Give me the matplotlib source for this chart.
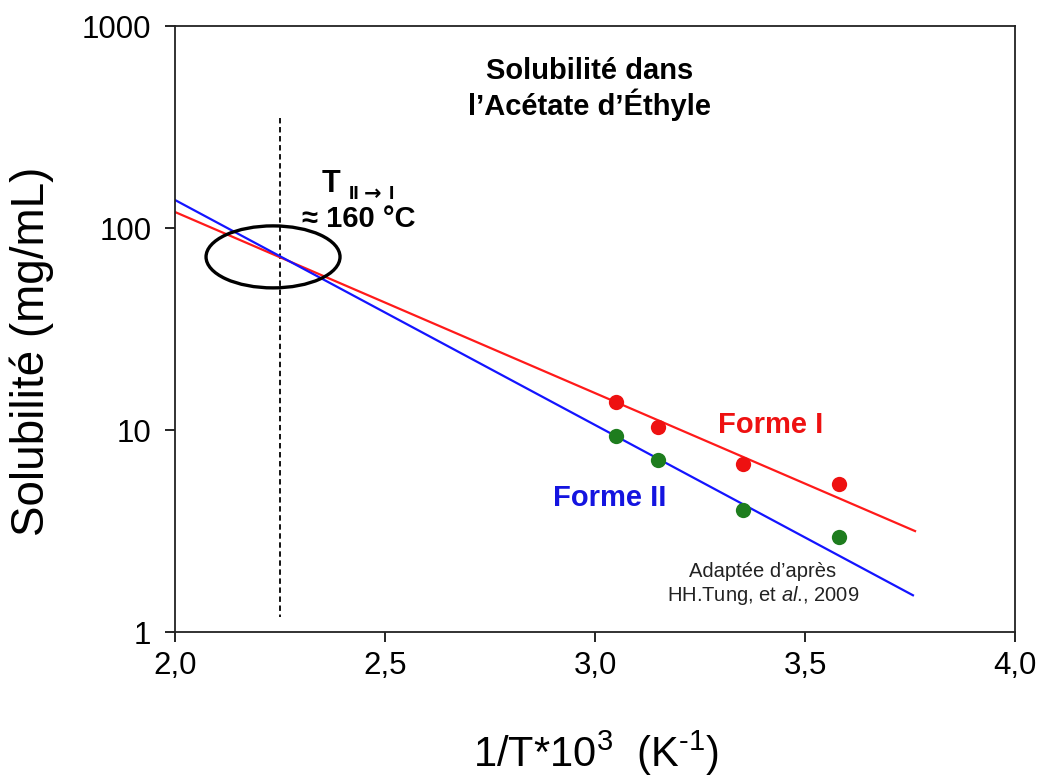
import matplotlib
matplotlib.use("Agg")
import matplotlib.pyplot as plt
from matplotlib.patches import Ellipse

plt.rcParams['font.family'] = ['Liberation Sans', 'DejaVu Sans']
plt.rcParams['mathtext.fontset'] = 'custom'
plt.rcParams['mathtext.rm'] = 'Liberation Sans'
plt.rcParams['mathtext.it'] = 'Liberation Sans:italic'
plt.rcParams['mathtext.bf'] = 'Liberation Sans:bold'

# ---- data ----
inv_T = [3.05, 3.15, 3.352, 3.581]
forme_I = [13.8, 10.35, 6.79, 5.4]
forme_II = [9.34, 7.1, 4.02, 2.95]

fit_x_I = [2.0, 3.762]
fit_y_I = [120.0, 3.16]
fit_x_II = [2.0, 3.757]
fit_y_II = [137.6, 1.52]

transition_x = [2.25, 2.25]
transition_y = [351.0, 1.19]

x_ticks = [2.0, 2.5, 3.0, 3.5, 4.0]
x_tick_labels = ['2,0', '2,5', '3,0', '3,5', '4,0']
y_ticks = [1, 10, 100, 1000]
y_tick_labels = ['1', '10', '100', '1000']

# ---- figure ----
W, H = 1040, 776
fig = plt.figure(figsize=(10.4, 7.76), dpi=100)
ax = fig.add_axes([175/W, 144/H, 840/W, 606/H])

ax.set_yscale('log')
ax.set_xlim(2.0, 4.0)
ax.set_ylim(1, 1000)

ax.plot(fit_x_I, fit_y_I, color='#ff1a1a', lw=1.6, zorder=2)
ax.plot(fit_x_II, fit_y_II, color='#1414ff', lw=1.6, zorder=2)
ax.plot(inv_T, forme_I, 'o', color='#ee1111', ms=11, mec='none', zorder=3)
ax.plot(inv_T, forme_II, 'o', color='#1e7d1e', ms=11, mec='none', zorder=3)

ax.plot(transition_x, transition_y, color='black', lw=1.3, ls=(0, (3, 2)), zorder=1)

ell = Ellipse((0.1167, 0.619), 0.1595, 0.1023, transform=ax.transAxes,
              fill=False, ec='black', lw=2.4, zorder=4)
ax.add_patch(ell)

ax.xaxis.set_major_locator(matplotlib.ticker.FixedLocator(x_ticks))
ax.set_xticklabels(x_tick_labels)
ax.yaxis.set_major_locator(matplotlib.ticker.FixedLocator(y_ticks))
ax.yaxis.set_minor_locator(matplotlib.ticker.NullLocator())
ax.set_yticklabels(y_tick_labels)
ax.tick_params(axis='both', which='major', direction='out', length=7, width=1.2,
               labelsize=22.5, colors='black')
ax.tick_params(axis='x', pad=7)
ax.tick_params(axis='y', pad=10)
for s in ax.spines.values():
    s.set_linewidth(1.3)
    s.set_color('#222222')

# axis titles placed in figure pixels
fig.text(32/W, 1 - 351/H, 'Solubilité (mg/mL)', rotation=90, ha='center', va='center',
         fontsize=33)
fig.text(596/W, 1 - 767/H, r'1/T*10$^{3}$  (K$^{\text{-}1}$)', ha='center', va='baseline',
         fontsize=30)

# ---- annotations ----
ax.text(0.494, 0.896, 'Solubilité dans\nl’Acétate d’Éthyle', transform=ax.transAxes,
        ha='center', va='center', fontsize=21, fontweight='bold', linespacing=1.15)
ax.text(0.175, 0.726, 'T', transform=ax.transAxes, ha='left', va='baseline',
        fontsize=22, fontweight='bold')
ax.text(0.207, 0.7145, 'II', transform=ax.transAxes, ha='left', va='baseline',
        fontsize=14, fontweight='bold')
ax.text(0.225, 0.7125, '→', transform=ax.transAxes, ha='left', va='baseline',
        fontsize=15, fontweight='bold', family=['DejaVu Sans'])
ax.text(0.254, 0.7145, 'I', transform=ax.transAxes, ha='left', va='baseline',
        fontsize=14, fontweight='bold')
ax.text(0.151, 0.668, '≈ 160 °C', transform=ax.transAxes, ha='left', va='baseline',
        fontsize=21, fontweight='bold', family=['Liberation Sans', 'DejaVu Sans'])
ax.text(0.646, 0.328, 'Forme I', transform=ax.transAxes, ha='left', va='baseline',
        fontsize=21, fontweight='bold', color='#ee1111')
ax.text(0.45, 0.208, 'Forme II', transform=ax.transAxes, ha='left', va='baseline',
        fontsize=21, fontweight='bold', color='#1414e0')
ax.text(0.70, 0.078, 'Adaptée d’après\nHH.Tung, et $\\mathit{al}$., 2009', transform=ax.transAxes,
        ha='center', va='center', fontsize=14.5, color='#222222', linespacing=1.15)

fig.savefig('out.png', dpi=100, facecolor='white')
